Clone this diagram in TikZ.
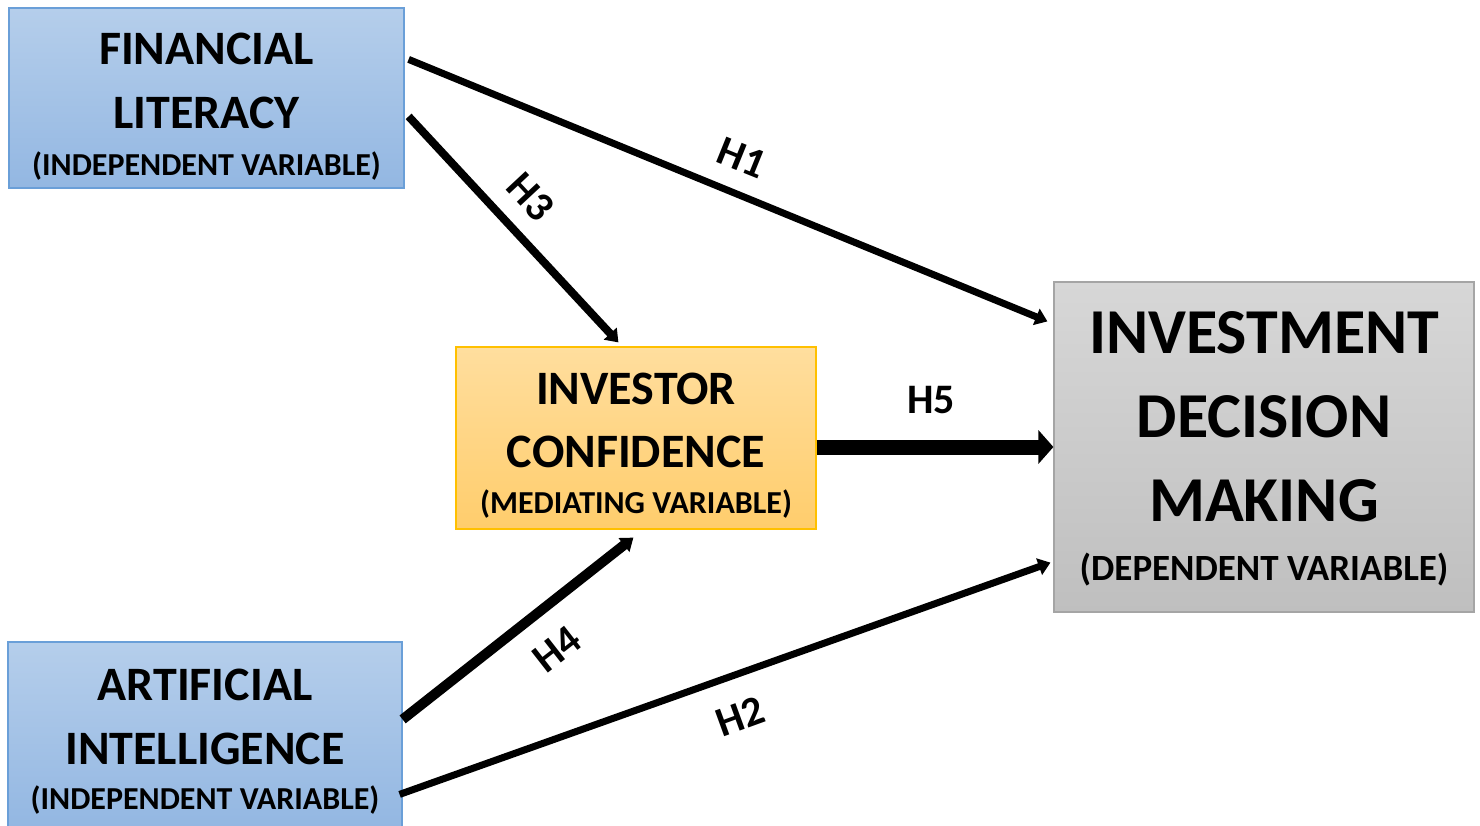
\documentclass[tikz,border=0pt]{standalone}
\usepackage{fontspec}
\setmainfont{Carlito}
\usetikzlibrary{arrows.meta,calc,shadings}
\definecolor{blueTop}{HTML}{B5CEEB}
\definecolor{blueBot}{HTML}{93B7E2}
\definecolor{blueLine}{HTML}{6A9FD8}
\definecolor{orTop}{HTML}{FFDE9E}
\definecolor{orBot}{HTML}{FFCD6C}
\definecolor{orLine}{HTML}{FFC000}
\definecolor{grTop}{HTML}{D7D7D7}
\definecolor{grBot}{HTML}{BFBFBF}
\definecolor{grLine}{HTML}{A5A5A5}
\tikzset{
  box/.style={rectangle, inner sep=0pt, line width=1.2pt},
  bluebox/.style={box, draw=blueLine, top color=blueTop, bottom color=blueBot},
  orbox/.style={box, draw=orLine, top color=orTop, bottom color=orBot},
  grbox/.style={box, draw=grLine, top color=grTop, bottom color=grBot},
  txt/.style={inner sep=0pt, anchor=base, font=\bfseries\fontsize{#1}{#1}\selectfont},
  hlab/.style={inner sep=0pt, font=\bfseries\fontsize{42}{42}\selectfont},
  conn/.style={draw=black, line width=#1},
  thinhead/.style={-{Triangle[length=12pt,width=17pt]}},
  bighead/.style={-{Triangle[length=15pt,width=33pt]}}
}
\begin{document}
\begin{tikzpicture}[x=1pt,y=-1pt]
\useasboundingbox (0,0) rectangle (1480,825);
% boxes
\node[bluebox, minimum width=395pt, minimum height=180pt] (fl) at (206.5,98) {};
\node[bluebox, minimum width=394pt, minimum height=186pt] (ai) at (205,735) {};
\node[orbox, minimum width=360pt, minimum height=182pt] (ic) at (636,438) {};
\node[grbox, minimum width=420pt, minimum height=330pt] (idm) at (1264,447) {};
% texts
\node[txt=48] (fl1) at (206.5,64) {FINANCIAL};
\node[txt=48] (fl2) at (206.5,128) {LITERACY};
\node[txt=32] (fl3) at (206.5,175) {(INDEPENDENT VARIABLE)};
\node[txt=48] (ai1) at (205,700) {ARTIFICIAL};
\node[txt=48] (ai2) at (205,764) {INTELLIGENCE};
\node[txt=32] (ai3) at (205,809) {(INDEPENDENT VARIABLE)};
\node[txt=48] (ic1) at (636,404) {INVESTOR};
\node[txt=48] (ic2) at (636,467) {CONFIDENCE};
\node[txt=32] (ic3) at (636,513) {(MEDIATING VARIABLE)};
\node[txt=64] (idm1) at (1264,353) {INVESTMENT};
\node[txt=64] (idm2) at (1264,437) {DECISION};
\node[txt=64] (idm3) at (1264,521) {MAKING};
\node[txt=37] (idm4) at (1264,580) {(DEPENDENT VARIABLE)};
% connectors
\draw[conn=7pt, thinhead] ($(fl.north east)+(4,52)$) -- ($(idm.north west)+(-6,40)$);
\draw[conn=8pt, thinhead] ($(fl.north east)+(4,109)$) -- ($(ic.north west)+(163,-4)$);
\draw[conn=15pt, bighead] (ic.east |- idm.west) -- (idm.west);
\draw[conn=10pt, thinhead] ($(ai.north east)+(0,78)$) -- ($(ic.south west)+(178,8)$);
\draw[conn=7pt, thinhead] ($(ai.north east)+(-3,153)$) -- ($(idm.south west)+(-3,-50)$);
% labels
\node[hlab, rotate=-22] (h1) at (742,158) {H1};
\node[hlab, rotate=-47] (h3) at (531,197) {H3};
\node[hlab] (h5) at (931,400) {H5};
\node[hlab, rotate=38] (h4) at (557,649) {H4};
\node[hlab, rotate=20] (h2) at (740,716) {H2};
\end{tikzpicture}
\end{document}
